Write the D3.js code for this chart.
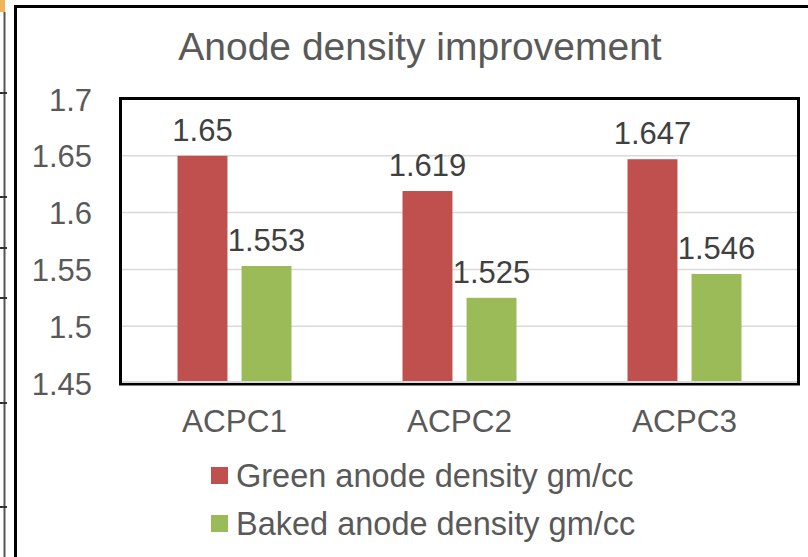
<!DOCTYPE html>
<html>
<head>
<meta charset="utf-8">
<script src="https://cdn.jsdelivr.net/npm/d3@7/dist/d3.min.js"></script>
<style>
html,body{margin:0;padding:0;background:#fff;}
svg{display:block;font-family:"Liberation Sans",Arial,sans-serif;}
</style>
</head>
<body>
<svg id="chart" width="808" height="557"></svg>
<script>
const categories = ["ACPC1", "ACPC2", "ACPC3"];
const seriesNames = ["Green anode density gm/cc", "Baked anode density gm/cc"];
const greenDensity = [1.65, 1.619, 1.647];
const bakedDensity = [1.553, 1.525, 1.546];
const yTicks = [1.45, 1.5, 1.55, 1.6, 1.65, 1.7];
const seriesColors = ["#C0504D", "#9BBB59"];
const titleText = "Anode density improvement";

const svg = d3.select("#chart");
const W = 808, H = 557;
const plot = {left: 122, right: 797, top: 99, bottom: 383};

// spreadsheet background fragments
svg.append("rect").attr("x", 0).attr("y", 0).attr("width", 5).attr("height", 12).attr("fill", "#F2B45A");
svg.append("line").attr("x1", 4.5).attr("x2", 4.5).attr("y1", 12).attr("y2", H)
  .attr("stroke", "#555").attr("stroke-width", 2);
[93, 197, 248, 298, 403, 507].forEach(yy => {
  svg.append("line").attr("x1", 0).attr("x2", 7).attr("y1", yy).attr("y2", yy)
    .attr("stroke", "#333").attr("stroke-width", 2);
});
// chart outer frame (partially visible)
svg.append("path").attr("d", `M15.5,${H} L15.5,6.5 L${W},6.5`)
  .attr("fill", "none").attr("stroke", "#000").attr("stroke-width", 3);

const y = d3.scaleLinear().domain([1.45, 1.7]).range([plot.bottom, plot.top]);
const x0 = d3.scaleBand().domain(categories).range([plot.left, plot.right]).padding(0);
const x1 = d3.scaleBand().domain(seriesNames).range([-57, 57]).paddingInner(0.22);

// title
svg.append("text").attr("x", 420).attr("y", 60).attr("text-anchor", "middle")
  .attr("font-size", 39).attr("fill", "#595959").text(titleText);

// gridlines
svg.append("g").selectAll("line").data(yTicks.filter(t => t > 1.45 && t < 1.7)).join("line")
  .attr("x1", plot.left).attr("x2", plot.right)
  .attr("y1", d => y(d)).attr("y2", d => y(d))
  .attr("stroke", "#D9D9D9").attr("stroke-width", 1.5);

// y axis
const yAxis = svg.append("g").attr("transform", `translate(92,0)`)
  .call(d3.axisLeft(y).tickValues(yTicks).tickSize(0).tickPadding(0).tickFormat(d => String(d)));
yAxis.select(".domain").remove();
yAxis.selectAll("text").attr("font-size", 31).attr("fill", "#595959")
  .attr("font-family", "Liberation Sans, Arial, sans-serif").attr("dy", "0.36em");

// bars
const rows = categories.map((c, i) => ({cat: c, vals: [greenDensity[i], bakedDensity[i]]}));
const groups = svg.append("g").selectAll("g").data(rows).join("g")
  .attr("transform", d => `translate(${x0(d.cat) + x0.bandwidth() / 2},0)`);
groups.selectAll("rect").data(d => d.vals.map((v, j) => ({v, s: seriesNames[j], j}))).join("rect")
  .attr("x", d => x1(d.s)).attr("width", x1.bandwidth())
  .attr("y", d => y(d.v)).attr("height", d => y(1.45) - y(d.v))
  .attr("fill", d => seriesColors[d.j]);
groups.selectAll("text").data(d => d.vals.map((v, j) => ({v, s: seriesNames[j], j}))).join("text")
  .attr("x", d => x1(d.s) + x1.bandwidth() / 2).attr("y", d => y(d.v) - 15)
  .attr("text-anchor", "middle").attr("font-size", 31).attr("fill", "#404040")
  .text(d => String(d.v));

// x axis line + plot frame
svg.append("rect").attr("x", plot.left - 1.5).attr("y", plot.top - 0.5)
  .attr("width", plot.right - plot.left + 3).attr("height", plot.bottom - plot.top + 1.5)
  .attr("fill", "none").attr("stroke", "#000").attr("stroke-width", 3);
svg.append("line").attr("x1", plot.left).attr("x2", plot.right)
  .attr("y1", plot.bottom - 1).attr("y2", plot.bottom - 1)
  .attr("stroke", "#D9D9D9").attr("stroke-width", 2);

const xAxis = svg.append("g").attr("transform", `translate(0,${plot.bottom})`)
  .call(d3.axisBottom(x0).tickSize(0).tickPadding(0));
xAxis.select(".domain").remove();
xAxis.selectAll("text").attr("font-size", 31.5).attr("fill", "#595959")
  .attr("font-family", "Liberation Sans, Arial, sans-serif").attr("dy", null).attr("y", 49);

// legend
const legend = svg.append("g").selectAll("g").data(seriesNames).join("g")
  .attr("transform", (d, i) => `translate(211,${467 + i * 48})`);
legend.append("rect").attr("width", 17).attr("height", 17).attr("fill", (d, i) => seriesColors[i]);
legend.append("text").attr("x", 25).attr("y", 20).attr("font-size", 32.5).attr("fill", "#595959").text(d => d);
</script>
</body>
</html>
